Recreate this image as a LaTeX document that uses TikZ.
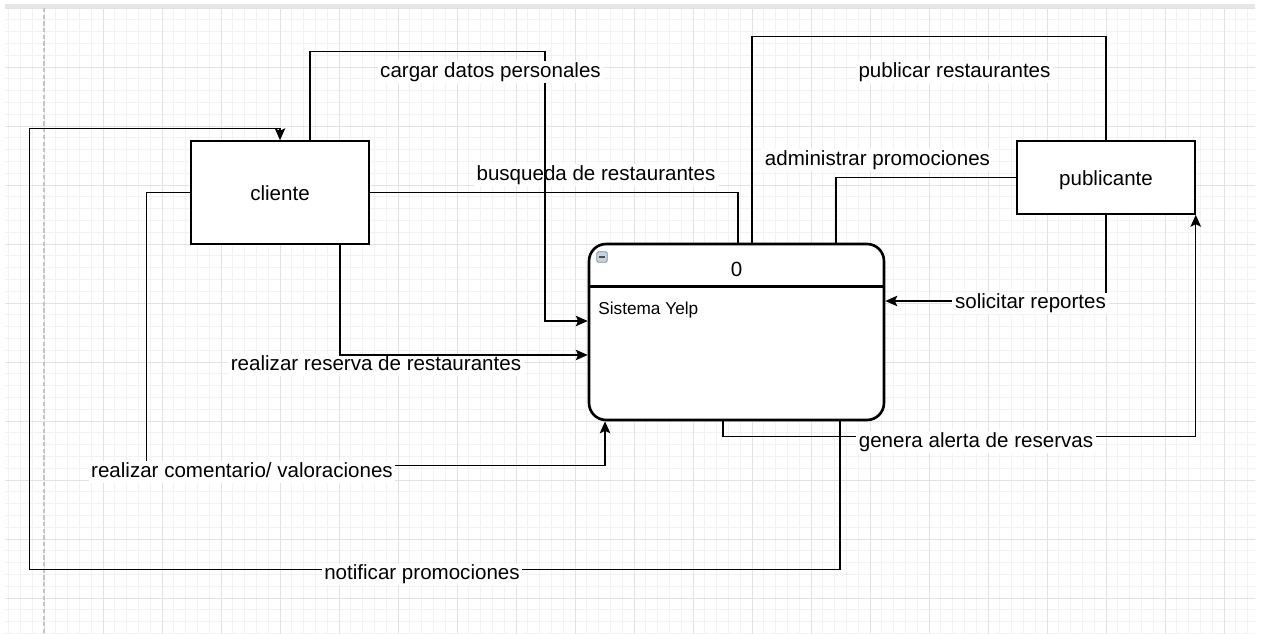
\documentclass[tikz,border=0pt]{standalone}
\usepackage{fontspec}
\setmainfont{Liberation Sans}
\usetikzlibrary{arrows.meta,calc}
\definecolor{majorgrid}{HTML}{E2E2E2}
\definecolor{minorgrid}{HTML}{F2F2F2}
\definecolor{topbar}{HTML}{E6E6E6}
\definecolor{pagebreak}{HTML}{C4C4C4}
\definecolor{iconfill}{HTML}{C9D2DE}
\definecolor{iconedge}{HTML}{7F8FA6}
\begin{document}
\begin{tikzpicture}[x=0.02cm,y=-0.02cm,
  box/.style={draw=black, line width=0.85pt, fill=white, inner sep=0pt,
    font=\fontsize{11.7}{14}\selectfont, text height=11.8pt, text depth=2.4pt},
  sysbox/.style={draw=black, line width=1.5pt, fill=white, rounded corners=0.34cm, inner sep=0pt},
  flow/.style={draw=black, line width=0.85pt},
  arr/.style={flow, -{Stealth[length=2.4mm,width=2.1mm,inset=0.5mm]}},
  lbl/.style={font=\fontsize{11.7}{14}\selectfont, fill=white, inner xsep=1.5pt, inner ysep=0.8pt,
    text height=8.4pt, text depth=2.4pt, yshift=-0.04cm},
]
\useasboundingbox (0,0) rectangle (1263,634);
\fill[white] (0,0) rectangle (1263,634);
% grid
\begin{scope}
\clip (5,8) rectangle (1255,634);
\foreach \i in {-4,...,103} \draw[minorgrid, line width=0.45pt] ({44+11.8*\i},0) -- ({44+11.8*\i},634);
\foreach \i in {0,...,53} \draw[minorgrid, line width=0.45pt] (0,{8+11.8*\i}) -- (1263,{8+11.8*\i});
\foreach \i in {-1,...,21} \draw[majorgrid, line width=0.55pt] ({44+59*\i},0) -- ({44+59*\i},634);
\foreach \i in {0,...,11} \draw[majorgrid, line width=0.55pt] (0,{8+59*\i}) -- (1263,{8+59*\i});
\end{scope}
\draw[pagebreak, line width=0.6pt, dash pattern=on 2.4pt off 1.4pt] (44,8) -- (44,634);
\fill[topbar] (5,4.5) rectangle (1255,7.8);

% nodes
\node[box, minimum width=3.56cm, minimum height=2.06cm] (cli) at (280,192.5) {cliente};
\node[box, minimum width=3.56cm, minimum height=1.46cm] (pub) at (1106,177.5) {publicante};
\node[sysbox, minimum width=5.9cm, minimum height=3.52cm] (sys) at (736.5,332) {};
\draw[line width=1.5pt] ([yshift=-0.88cm]sys.north west) -- ([yshift=-0.88cm]sys.north east);
\node[lbl, fill=none] (zero) at (736.5,269) {0};
\node[anchor=west, inner sep=0pt, font=\fontsize{9.8}{12}\selectfont, text height=7pt, text depth=2pt] (sy) at (598,310) {Sistema Yelp};
\node[draw=iconedge, fill=iconfill, line width=0.5pt, rounded corners=0.9pt, minimum size=0.21cm, inner sep=0pt] (icon) at (602,257) {};
\draw[black!70, line width=1pt] ([xshift=0.05cm]icon.west) -- ([xshift=-0.05cm]icon.east);

% labels lying under connectors
\node[lbl] (lbus) at (596,173) {busqueda de restaurantes};
\node[lbl] (lres) at (376,363) {realizar reserva de restaurantes};

% connectors
\draw[arr] ([xshift=0.6cm]cli.north) -- ++(0,-89) -- ++(235,0) |- ([yshift=0.22cm]sys.west);
\draw[flow] (cli.east) -| ([xshift=0.03cm]sys.north);
\draw[flow] ([xshift=0.31cm]sys.north) -- ++(0,-206) -| (pub.north);
\draw[flow] (pub.west) -| ([xshift=1.99cm]sys.north);
\draw[arr] (pub.south) |- ([yshift=0.62cm]sys.east);
\draw[arr] ([xshift=-0.27cm]sys.south) -- ++(0,15) -| (pub.south east);
\draw[arr] ([xshift=2.07cm]sys.south) -- ++(0,148) -- ++(-810.5,0) -- ++(0,-441) -| (cli.north);
\draw[arr] ([xshift=1.2cm]cli.south) |- ([yshift=-0.46cm]sys.west);
\draw[arr] (cli.west) -- ++(-44,0) -- ++(0,273) -| ([xshift=-2.63cm]sys.south);

% labels over connectors
\node[lbl] (lcar) at (490.5,70) {cargar datos personales};
\node[lbl] (lpub) at (954.5,70) {publicar restaurantes};
\node[lbl] (ladm) at (877.5,158) {administrar promociones};
\node[lbl] (lsol) at (1030.5,301.5) {solicitar reportes};
\node[lbl] (lgen) at (976,440) {genera alerta de reservas};
\node[lbl] (lnot) at (422,572.5) {notificar promociones};
\node[lbl] (lcom) at (242,470) {realizar comentario/ valoraciones};
\end{tikzpicture}
\end{document}
